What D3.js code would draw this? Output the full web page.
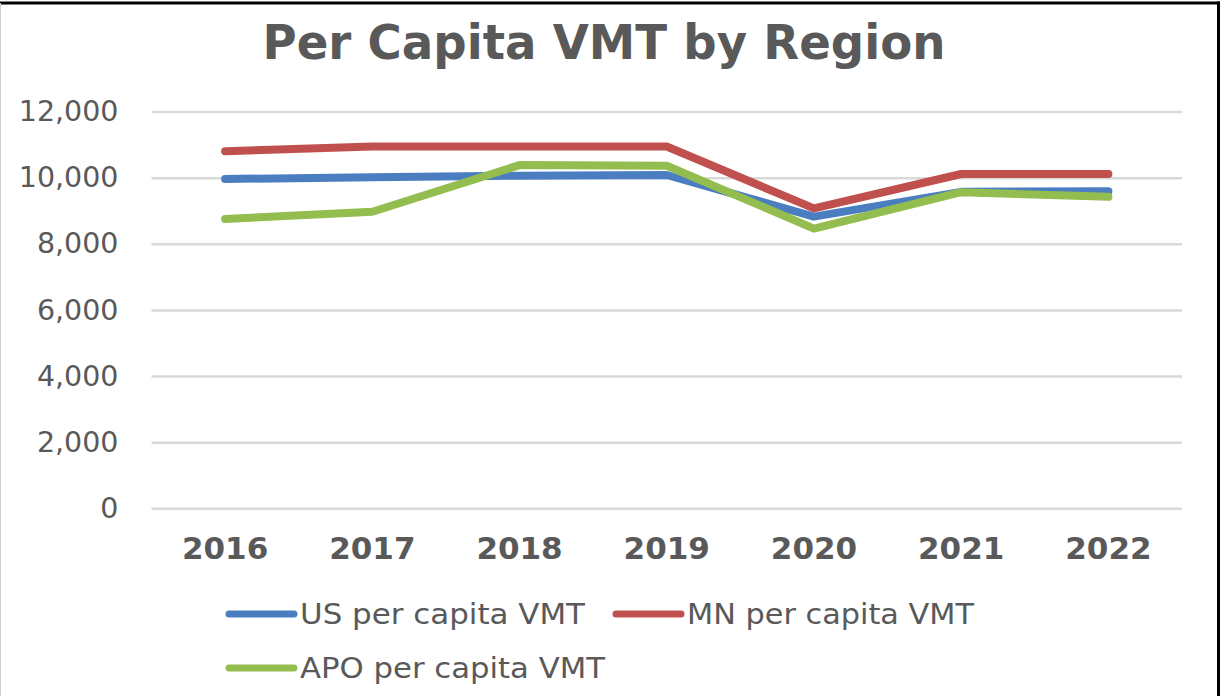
<!DOCTYPE html>
<html>
<head>
<meta charset="utf-8">
<script src="https://cdn.jsdelivr.net/npm/d3@7"></script>
<style>
  html, body { margin: 0; padding: 0; background: #fff; }
  svg { display: block; }
  text { font-family: "DejaVu Sans", Verdana, sans-serif; fill: #595959; }
</style>
</head>
<body>
<svg id="chart" width="1222" height="696"></svg>
<script>
// Per capita vehicle miles travelled, by year and region
const years = ["2016", "2017", "2018", "2019", "2020", "2021", "2022"];
const usVMT  = [9960, 10010, 10060, 10080, 8820, 9570, 9590];
const mnVMT  = [10800, 10940, 10940, 10940, 9070, 10110, 10110];
const apoVMT = [8750, 8970, 10380, 10360, 8460, 9560, 9420];
const yTicks = [0, 2000, 4000, 6000, 8000, 10000, 12000];

const seriesNames  = ["US per capita VMT", "MN per capita VMT", "APO per capita VMT"];
const seriesValues = [usVMT, mnVMT, apoVMT];
const seriesColors = ["#4A7EC1", "#C0504D", "#93BD4E"];

const W = 1222, H = 696;
const plot = { left: 151.5, right: 1182, top: 111.5, bottom: 508.3 };

const svg = d3.select("#chart");

// frame
svg.append("line").attr("x1", 0).attr("x2", 1220).attr("y1", 3).attr("y2", 3)
  .attr("stroke", "#000").attr("stroke-width", 3);
svg.append("line").attr("x1", 1218.5).attr("x2", 1218.5).attr("y1", 1.5).attr("y2", H)
  .attr("stroke", "#000").attr("stroke-width", 3);
svg.append("line").attr("x1", 0.5).attr("x2", 0.5).attr("y1", 3).attr("y2", H)
  .attr("stroke", "#d0d0d0").attr("stroke-width", 1);

// title
svg.append("text")
  .attr("x", 604).attr("y", 59)
  .attr("text-anchor", "middle")
  .attr("font-size", 48).attr("font-weight", "bold")
  .attr("textLength", 683).attr("lengthAdjust", "spacingAndGlyphs")
  .text("Per Capita VMT by Region");

const x = d3.scaleBand().domain(years).range([plot.left, plot.right]);
const y = d3.scaleLinear().domain([0, 12000]).range([plot.bottom, plot.top]);
const fmt = d3.format(",");

// horizontal gridlines and y labels
const yAxis = d3.axisLeft(y).tickValues(yTicks).tickFormat(fmt)
  .tickSize(-(plot.right - plot.left)).tickPadding(33);
const gy = svg.append("g").attr("transform", `translate(${plot.left},0)`).call(yAxis);
gy.select(".domain").remove();
gy.selectAll(".tick line").attr("stroke", "#d9d9d9").attr("stroke-width", 2.5);
gy.selectAll(".tick text")
  .attr("font-size", 28.5).attr("fill", "#595959")
  .attr("font-family", "DejaVu Sans, Verdana, sans-serif");

// x labels
const xAxis = d3.axisBottom(x).tickSize(0).tickPadding(29);
const gx = svg.append("g").attr("transform", `translate(0,${plot.bottom})`).call(xAxis);
gx.select(".domain").remove();
gx.selectAll(".tick text")
  .attr("font-size", 31).attr("font-weight", "bold").attr("fill", "#595959")
  .attr("font-family", "DejaVu Sans, Verdana, sans-serif");

// series lines
const line = d3.line()
  .x((d, i) => x(years[i]) + x.bandwidth() / 2)
  .y(d => y(d));

seriesValues.forEach((vals, k) => {
  svg.append("path")
    .datum(vals)
    .attr("d", line)
    .attr("fill", "none")
    .attr("stroke", seriesColors[k])
    .attr("stroke-width", 8)
    .attr("stroke-linecap", "round")
    .attr("stroke-linejoin", "round");
});

// legend
const legendPos = [[226, 614], [613, 614], [226, 668]];
const legendWidths = [285, 287, 305];
seriesNames.forEach((name, k) => {
  const [lx, ly] = legendPos[k];
  svg.append("line")
    .attr("x1", lx + 3).attr("x2", lx + 68).attr("y1", ly).attr("y2", ly)
    .attr("stroke", seriesColors[k]).attr("stroke-width", 7)
    .attr("stroke-linecap", "round");
  svg.append("text")
    .attr("x", lx + 74).attr("y", ly + 10)
    .attr("font-size", 29)
    .attr("textLength", legendWidths[k]).attr("lengthAdjust", "spacingAndGlyphs")
    .text(name);
});
</script>
</body>
</html>
